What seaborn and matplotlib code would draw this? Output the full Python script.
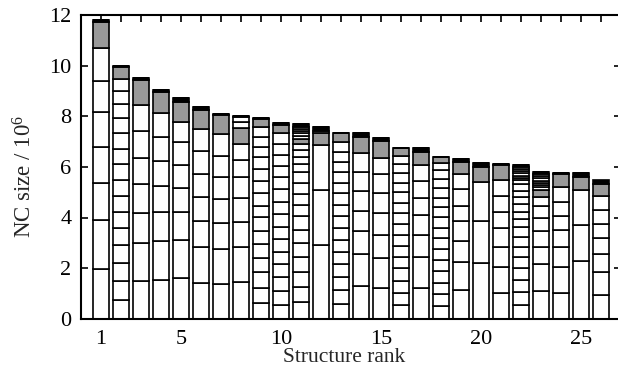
import matplotlib
matplotlib.use("Agg")
import matplotlib.pyplot as plt
import pandas as pd
import seaborn as sns

# Structure ranks on the x axis and which of them carry a label
ranks = list(range(1, 27))
labelled_ranks = [1, 5, 10, 15, 20, 25]
y_ticks = [0, 2, 4, 6, 8, 10, 12]

# Upper edge of every stacked block of each structure (bottom to top), in units of 10^6
block_tops = [
    [1.96, 3.90, 5.36, 6.80, 8.16, 9.41, 10.69, 11.72, 11.82],
    [0.75, 1.49, 2.21, 2.91, 3.57, 4.22, 4.86, 5.50, 6.10, 6.71, 7.33, 7.92, 8.49, 8.99, 9.47, 9.94, 10.00],
    [1.50, 3.01, 4.18, 5.31, 6.36, 7.42, 8.45, 9.42, 9.50],
    [1.54, 3.06, 4.23, 5.25, 6.25, 7.19, 8.12, 8.97, 9.03],
    [1.60, 3.10, 4.20, 5.15, 6.07, 6.98, 7.79, 8.55, 8.74],
    [1.42, 2.82, 3.87, 4.82, 5.72, 6.64, 7.50, 8.26, 8.35],
    [1.38, 2.75, 3.80, 4.73, 5.59, 6.44, 7.30, 8.04, 8.09],
    [1.44, 2.85, 3.84, 4.79, 5.59, 6.26, 6.91, 7.55, 7.79, 7.96, 8.03],
    [0.63, 1.23, 1.83, 2.41, 2.95, 3.48, 4.01, 4.45, 4.96, 5.44, 5.93, 6.39, 6.80, 7.19, 7.59, 7.88, 7.95],
    [0.54, 1.09, 1.64, 2.15, 2.64, 3.14, 3.64, 4.13, 4.61, 5.11, 5.59, 6.04, 6.48, 6.89, 7.33, 7.67, 7.72],
    [0.66, 1.27, 1.86, 2.44, 2.98, 3.52, 4.05, 4.51, 4.94, 5.38, 5.79, 6.13, 6.40, 6.65, 6.91, 7.09,
     7.23, 7.33, 7.43, 7.51, 7.59, 7.68],
    [2.91, 5.07, 6.87, 7.33, 7.43, 7.56],
    [0.57, 1.13, 1.66, 2.16, 2.65, 3.11, 3.60, 4.06, 4.49, 4.96, 5.38, 5.81, 6.21, 6.60, 6.97, 7.33],
    [1.31, 2.54, 3.45, 4.27, 5.05, 5.81, 6.56, 7.17, 7.33],
    [1.20, 2.39, 3.31, 4.19, 4.96, 5.71, 6.36, 7.02, 7.13],
    [0.54, 1.03, 1.50, 1.99, 2.43, 2.87, 3.31, 3.74, 4.16, 4.59, 4.99, 5.38, 5.77, 6.11, 6.43, 6.73],
    [1.23, 2.45, 3.31, 4.10, 4.78, 5.44, 6.08, 6.60, 6.73],
    [0.50, 0.96, 1.42, 1.89, 2.32, 2.75, 3.18, 3.60, 4.01, 4.40, 4.78, 5.15, 5.52, 5.88, 6.17, 6.40],
    [1.13, 2.25, 3.08, 3.86, 4.47, 5.13, 5.72, 6.21, 6.30],
    [2.21, 3.87, 5.39, 5.98, 6.14],
    [1.03, 2.06, 2.82, 3.57, 4.23, 4.86, 5.48, 6.06, 6.10],
    [0.54, 1.07, 1.53, 1.99, 2.43, 2.82, 3.22, 3.61, 3.94, 4.23, 4.52, 4.82, 5.06, 5.31, 5.48, 5.57,
     5.65, 5.75, 5.82, 5.90, 5.98, 6.08],
    [1.09, 2.16, 2.85, 3.48, 3.98, 4.46, 4.81, 5.09, 5.19, 5.28, 5.38, 5.46, 5.55, 5.64, 5.72, 5.81],
    [1.03, 2.06, 2.82, 3.52, 4.07, 4.62, 5.19, 5.70, 5.75],
    [2.27, 3.71, 5.09, 5.59, 5.75],
    [0.94, 1.83, 2.54, 3.18, 3.75, 4.30, 4.86, 5.32, 5.48],
]

# Fill of each block: w = white, g = grey, k = black
block_shades = [
    "wwwwwwwgk",
    "w" * 15 + "gk",
    "wwwwwwwgk",
    "wwwwwwwgk",
    "wwwwwwwgk",
    "wwwwwwwgk",
    "wwwwwwwgk",
    "wwwwwwwgwwk",
    "w" * 15 + "gk",
    "w" * 15 + "gk",
    "w" * 15 + "g" + "w" * 5 + "k",
    "wwwggk",
    "w" * 15 + "g",
    "wwwwwwwgk",
    "wwwwwwwgk",
    "w" * 15 + "g",
    "wwwwwwwgk",
    "w" * 15 + "g",
    "wwwwwwwgk",
    "wwwgk",
    "wwwwwwwgk",
    "w" * 15 + "g" + "w" * 5 + "k",
    "w" * 7 + "g" + "w" * 7 + "k",
    "wwwwwwwgk",
    "wwwgk",
    "wwwwwwwgk",
]

shade_colors = {"w": "#ffffff", "g": "#999999", "k": "#000000"}

# Long-form table: one row per block
rows = []
for rank, tops, shades in zip(ranks, block_tops, block_shades):
    lower = 0.0
    for j, (top, shade) in enumerate(zip(tops, shades)):
        rows.append({"rank": rank, "size": top - lower,
                     "block": f"{rank}-{j}", "color": shade_colors[shade]})
        lower = top
blocks = pd.DataFrame(rows)

sns.set_style("ticks")
plt.rcParams["font.family"] = ["Liberation Serif", "DejaVu Serif"]
plt.rcParams["mathtext.fontset"] = "custom"
plt.rcParams["mathtext.rm"] = "Liberation Serif"
plt.rcParams["mathtext.it"] = "Liberation Serif:italic"

W, H = 618, 373
fig = plt.figure(figsize=(W / 100, H / 100), dpi=100)
x0, x1 = 81.0, 620.7
y0, y1 = 318.7, 15.1
ax = fig.add_axes([x0 / W, (H - y0) / H, (x1 - x0) / W, (y0 - y1) / H])

palette = dict(zip(blocks["block"], blocks["color"]))
# seaborn puts the last hue level at the bottom of a stack
hue_order = blocks["block"].tolist()[::-1]
sns.histplot(data=blocks, x="rank", weights="size", hue="block",
             hue_order=hue_order, palette=palette, multiple="stack",
             discrete=True, shrink=0.8, alpha=1, edgecolor="black",
             linewidth=1.2, legend=False, ax=ax)

ax.set_xlim(0, 27)
ax.set_ylim(0, 12)
ax.set_xticks(ranks)
ax.set_xticklabels([str(r) if r in labelled_ranks else "" for r in ranks])
ax.set_yticks(y_ticks)
ax.set_axisbelow(True)
ax.tick_params(direction="in", top=True, right=True, length=5, width=1.2,
               labelsize=16, colors="black")
ax.tick_params(axis="x", pad=8)
ax.tick_params(axis="y", pad=7)
for spine in ax.spines.values():
    spine.set_visible(True)
    spine.set_linewidth(1.5)
    spine.set_color("black")

ax.set_xlabel("Structure rank", fontsize=15.5, va="top")
ax.xaxis.set_label_coords(0.487, -0.097)
ax.set_ylabel(r"NC size / 10$^{6}$", fontsize=16.5, va="center")
ax.yaxis.set_label_coords(-0.104, 0.47)

fig.savefig("out.png", dpi=100, facecolor="white")
